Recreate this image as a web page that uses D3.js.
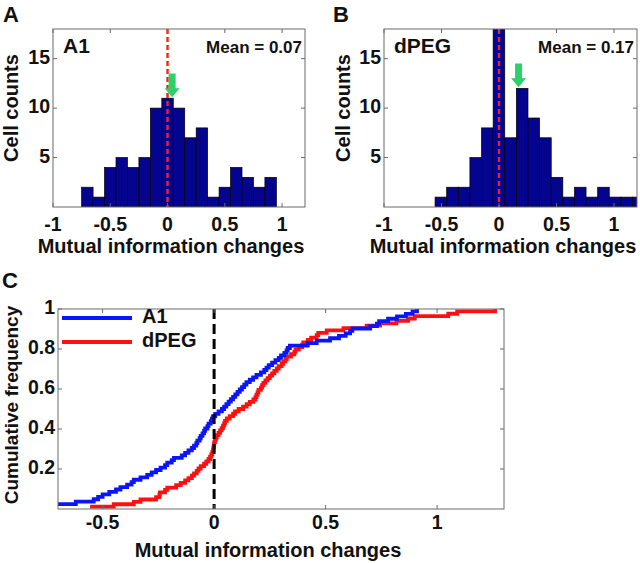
<!DOCTYPE html>
<html><head><meta charset="utf-8">
<script src="https://cdn.jsdelivr.net/npm/d3@7"></script>
<style>
body{margin:0;background:#fff}
svg{display:block}
text{font-family:"Liberation Sans",Arial,sans-serif;font-weight:bold;fill:#111}
</style>
</head><body>
<svg id="chart" width="640" height="563"></svg>
<script>
// ---------- DATA ----------
// Panel A (A1) histogram
const binStartA = -0.75, binWidthA = 0.1;
const countsA = [2,1,4,5,4,5,10,11,10,7,8,1,2,4,3,2,3];
const meanLabelA = "Mean = 0.07";
const arrowA = {x: 0.04, from: 13.5, to: 11.1};

// Panel B (dPEG) histogram
const binStartB = -0.556, binWidthB = 0.101;
const countsB = [1,2,2,5,8,19,7,12,9,7,3,1,2,1,2,1,1,1];
const meanLabelB = "Mean = 0.17";
const arrowB = {x: 0.17, from: 14.5, to: 12.1};

const histXTicks = [-1,-0.5,0,0.5,1];
const histYTicks = [5,10,15];

// Panel C: per-cell mutual information changes (sorted)
const valuesA1 = [
 -0.73,-0.71,-0.62,-0.54,-0.52,-0.50,-0.47,-0.44,-0.42,-0.39,-0.37,-0.36,
 -0.33,-0.30,-0.28,-0.26,-0.24,-0.22,-0.21,-0.19,-0.18,
 -0.145,-0.13,-0.115,-0.10,-0.09,-0.08,-0.075,-0.065,-0.06,-0.052,
 -0.045,-0.04,-0.03,-0.025,-0.015,-0.01,-0.005,0.005,0.02,0.035,0.045,
 0.055,0.065,0.075,0.085,0.095,0.105,0.115,0.125,0.135,0.145,
 0.16,0.175,0.19,0.21,0.225,0.235,0.245,
 0.26,0.275,0.29,0.30,0.315,0.325,0.33,0.34,
 0.42,0.46,0.52,0.56,0.59,0.61,0.62,0.70,0.73,0.74,0.78,0.82,0.86,0.89,0.91
];
const valuesDPEG = [
 -0.556,-0.45,-0.36,-0.33,-0.26,
 -0.245,-0.243,-0.22,-0.21,-0.17,
 -0.15,-0.13,-0.115,-0.10,-0.09,-0.078,-0.07,-0.06,
 -0.045,-0.035,-0.025,-0.018,-0.012,-0.008,-0.005,-0.003,-0.001,0.0,
 0.004,0.008,0.012,0.02,0.027,0.034,0.04,0.045,0.049,
 0.057,0.07,0.085,0.094,0.11,0.13,0.146,
 0.16,0.176,0.185,0.19,0.195,0.199,0.21,0.215,0.221,0.23,0.24,0.25,
 0.26,0.27,0.281,0.29,0.303,0.31,0.32,0.326,0.345,
 0.36,0.365,0.38,0.395,0.40,0.42,0.435,
 0.46,0.467,0.505,0.58,0.684,0.744,0.818,0.87,0.90,1.05,1.09,1.26
];
const cdfSeries = ["A1","dPEG"];
const cdfXTicks = [-0.5,0,0.5,1];
const cdfYTicks = [0.2,0.4,0.6,0.8,1];

// ---------- DRAW ----------
const svg = d3.select("#chart");
const BAR = "#04048e", AX = "#6a6a6a";

function frame(g, x, y, xt, yt, xOff, fmtY){
  const [x0,x1] = x.range(), [y0,y1] = y.range();
  g.append("rect").attr("x",x0).attr("y",y1).attr("width",x1-x0).attr("height",y0-y1)
   .attr("fill","none").attr("stroke",AX).attr("stroke-width",1);
  const tk = 4;
  xt.forEach(v=>{
    const px = x(v);
    g.append("line").attr("x1",px).attr("x2",px).attr("y1",y0).attr("y2",y0-tk).attr("stroke",AX);
    g.append("line").attr("x1",px).attr("x2",px).attr("y1",y1).attr("y2",y1+tk).attr("stroke",AX);
    g.append("text").attr("x",px).attr("y",y0+xOff).attr("text-anchor","middle")
     .attr("dominant-baseline","middle").style("font-size","19.5px").text(String(v));
  });
  yt.forEach(v=>{
    const py = y(v);
    g.append("line").attr("x1",x0).attr("x2",x0+tk).attr("y1",py).attr("y2",py).attr("stroke",AX);
    g.append("line").attr("x1",x1).attr("x2",x1-tk).attr("y1",py).attr("y2",py).attr("stroke",AX);
    g.append("text").attr("x",x0-3).attr("y",py).attr("text-anchor","end")
     .attr("dominant-baseline","middle").style("font-size","19.5px").text(fmtY(v));
  });
}

function histPanel(opt){
  const g = svg.append("g");
  const x = d3.scaleLinear().domain([-1,1.2]).range([opt.left,opt.right]);
  const y = d3.scaleLinear().domain([0,18]).range([207,29]);
  const clipId = "clip"+opt.id;
  svg.append("clipPath").attr("id",clipId).append("rect")
    .attr("x",opt.left).attr("y",29).attr("width",opt.right-opt.left).attr("height",178);
  const bins = opt.counts.map((c,i)=>({x0:opt.start+i*opt.width, x1:opt.start+(i+1)*opt.width, c}));
  g.append("g").attr("clip-path",`url(#${clipId})`).selectAll("rect").data(bins).join("rect")
    .attr("x",d=>x(d.x0)).attr("width",d=>x(d.x1)-x(d.x0))
    .attr("y",d=>y(Math.min(d.c,18.5))).attr("height",d=>y(0)-y(Math.min(d.c,18.5)))
    .attr("fill",BAR).attr("stroke","#000").attr("stroke-width",0.7);
  // zero line
  g.append("line").attr("x1",x(0)).attr("x2",x(0)).attr("y1",29).attr("y2",207)
    .attr("stroke","#ff1a1a").attr("stroke-width",2.4).attr("stroke-dasharray","5,3");
  frame(g,x,y,histXTicks,histYTicks,19,v=>String(v));
  // arrow
  const a = opt.arrow, cx = x(a.x), tip = y(a.to), top = y(a.from);
  const hw=7.5, sw=3.5, hl=9;
  g.append("polygon").attr("points",[
    [cx-sw,top],[cx+sw,top],[cx+sw,tip-hl],[cx+hw,tip-hl],[cx,tip],[cx-hw,tip-hl],[cx-sw,tip-hl]
  ].map(p=>p.join(",")).join(" ")).attr("fill","#2fcf6a");
  // texts
  g.append("text").attr("x",opt.left+10).attr("y",53).style("font-size","21px").text(opt.name);
  g.append("text").attr("x",opt.right-3).attr("y",53).attr("text-anchor","end").style("font-size","17px").text(opt.mean);
  g.append("text").attr("x",opt.xlabX).attr("y",253).attr("text-anchor","middle").style("font-size","20px").text("Mutual information changes");
  g.append("text").attr("transform",`translate(${opt.ylabX},108) rotate(-90)`).attr("text-anchor","middle")
    .attr("dominant-baseline","middle").style("font-size","20px").text("Cell counts");
  g.append("text").attr("x",opt.letterX).attr("y",22).style("font-size","22px").text(opt.letter);
}

histPanel({id:"A",left:53,right:305,start:binStartA,width:binWidthA,counts:countsA,arrow:arrowA,
  name:"A1",mean:meanLabelA,xlabX:171,ylabX:13,letter:"A",letterX:3});
histPanel({id:"B",left:384,right:637,start:binStartB,width:binWidthB,counts:countsB,arrow:arrowB,
  name:"dPEG",mean:meanLabelB,xlabX:503,ylabX:345,letter:"B",letterX:333});

// Panel C
(function(){
  const g = svg.append("g");
  const x = d3.scaleLinear().domain([-0.7,1.3]).range([58,504]);
  const y = d3.scaleLinear().domain([0,1]).range([509,309]);
  svg.append("clipPath").attr("id","clipC").append("rect").attr("x",58).attr("y",307).attr("width",446).attr("height",202);
  const colors = {"A1":"#0a14ff","dPEG":"#ff1010"};
  const sets = {"A1":valuesA1,"dPEG":valuesDPEG};
  const line = d3.line().x(d=>x(d[0])).y(d=>y(d[1])).curve(d3.curveStepAfter);
  const cg = g.append("g").attr("clip-path","url(#clipC)");
  cdfSeries.slice().reverse().forEach(s=>{
    const v = sets[s].slice().sort(d3.ascending), n=v.length;
    const pts = v.map((d,i)=>[d,(i+1)/n]);
    cg.append("path").attr("d",line(pts)).attr("fill","none").attr("stroke",colors[s]).attr("stroke-width",3.8);
  });
  g.append("line").attr("x1",x(0)).attr("x2",x(0)).attr("y1",309).attr("y2",509)
    .attr("stroke","#000").attr("stroke-width",3).attr("stroke-dasharray","10,5");
  frame(g,x,y,cdfXTicks,cdfYTicks,15,v=>String(v));
  // legend
  cdfSeries.forEach((s,i)=>{
    const ly = 318 + i*24;
    g.append("line").attr("x1",62).attr("x2",132).attr("y1",ly).attr("y2",ly).attr("stroke",colors[s]).attr("stroke-width",3.8);
    g.append("text").attr("x",142).attr("y",ly).attr("dominant-baseline","middle").style("font-size","20px").text(s);
  });
  g.append("text").attr("x",268).attr("y",557).attr("text-anchor","middle").style("font-size","20px").text("Mutual information changes");
  g.append("text").attr("transform","translate(13,405) rotate(-90)").attr("text-anchor","middle")
    .attr("dominant-baseline","middle").style("font-size","19px").text("Cumulative frequency");
  g.append("text").attr("x",2).attr("y",288).style("font-size","22px").text("C");
})();
</script>
</body></html>
